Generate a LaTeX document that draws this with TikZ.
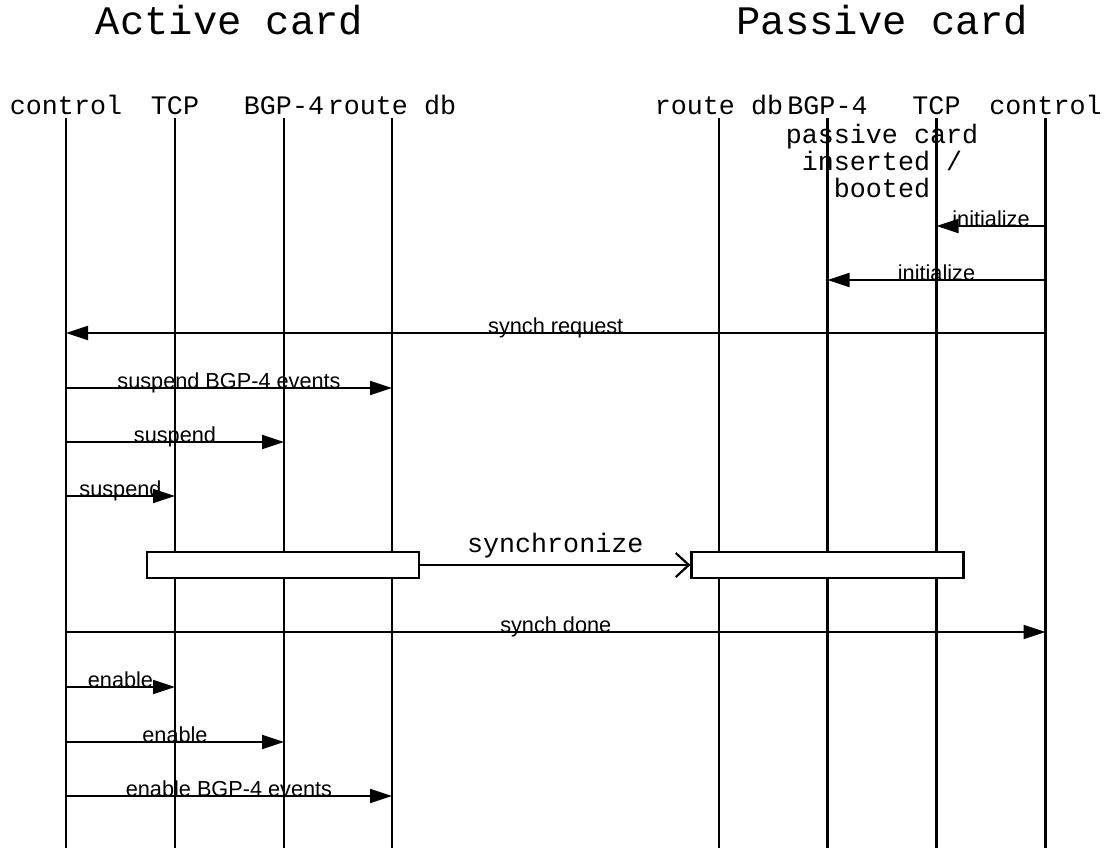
\documentclass[tikz,border=0pt]{standalone}
\usepackage{fontspec}
\setmainfont{Liberation Sans}
\setmonofont{Liberation Mono}
\usetikzlibrary{arrows.meta}

\begin{document}
\begin{tikzpicture}[x=1pt,y=-1pt,
    every node/.style={inner sep=0pt},
    cardtitle/.style={font=\ttfamily\fontsize{40.5}{42}\selectfont,anchor=base},
    entity/.style={font=\ttfamily\fontsize{26.7}{27}\selectfont,anchor=base},
    lifeline/.style={line width=2.2pt},
    msg/.style={line width=2.2pt,-{Triangle[length=22pt,width=14pt]}},
    msglabel/.style={font=\fontsize{21.7}{22}\selectfont,midway,anchor=base},
    syncbox/.style={draw,fill=white,line width=2.2pt,
                    minimum width=272pt,minimum height=26.5pt},
    syncarr/.style={line width=2.2pt,-{Straight Barb[length=13pt,width=24pt]}},
  ]
  \useasboundingbox (0,0) rectangle (1106,848);

  % card headings
  \node[cardtitle] (active) at (229.5,35) {Active card};
  \node[cardtitle] (passive) at (882.5,35) {Passive card};

  % entities
  \node[entity] (ctlA) at (66,115) {control};
  \node[entity] (tcpA) at (175,115) {TCP};
  \node[entity] (bgpA) at (284,115) {BGP-4};
  \node[entity] (rdbA) at (392,115) {route db};
  \node[entity] (rdbP) at (719,115) {route db};
  \node[entity] (bgpP) at (827.5,115) {BGP-4};
  \node[entity] (tcpP) at (936.5,115) {TCP};
  \node[entity] (ctlP) at (1045.5,115) {control};

  \coordinate (top) at (0,118);
  \coordinate (bot) at (0,848);
  \foreach \e in {ctlA,tcpA,bgpA,rdbA,rdbP,bgpP,tcpP,ctlP}
    \draw[lifeline] (\e |- top) -- (\e |- bot);

  \node[entity,align=center] (boot) at (882,197)
    {passive card\\inserted /\\booted};

  % message rows
  \coordinate (r1) at (0,226);
  \coordinate (r2) at (0,280);
  \coordinate (r3) at (0,333);
  \coordinate (r4) at (0,388);
  \coordinate (r5) at (0,442);
  \coordinate (r6) at (0,496);
  \coordinate (r8) at (0,632);
  \coordinate (r9) at (0,687);
  \coordinate (r10) at (0,742);
  \coordinate (r11) at (0,796);

  \draw[msg] (ctlP |- r1) -- (tcpP |- r1) node[msglabel] {initialize};
  \draw[msg] (ctlP |- r2) -- (bgpP |- r2) node[msglabel] {initialize};
  \draw[msg] (ctlP |- r3) -- (ctlA |- r3) node[msglabel] {synch request};
  \draw[msg] (ctlA |- r4) -- (rdbA |- r4) node[msglabel] {suspend BGP-4 events};
  \draw[msg] (ctlA |- r5) -- (bgpA |- r5) node[msglabel] {suspend};
  \draw[msg] (ctlA |- r6) -- (tcpA |- r6) node[msglabel] {suspend};

  % synchronisation
  \node[syncbox] (syncA) at (283,565) {};
  \node[syncbox] (syncP) at (827.5,565) {};
  \draw[syncarr] (syncA) -- (syncP)
    node[midway,anchor=base,yshift=13pt,font=\ttfamily\fontsize{26.7}{27}\selectfont]
    {synchronize};

  \draw[msg] (ctlA |- r8) -- (ctlP |- r8) node[msglabel] {synch done};
  \draw[msg] (ctlA |- r9) -- (tcpA |- r9) node[msglabel] {enable};
  \draw[msg] (ctlA |- r10) -- (bgpA |- r10) node[msglabel] {enable};
  \draw[msg] (ctlA |- r11) -- (rdbA |- r11) node[msglabel] {enable BGP-4 events};
\end{tikzpicture}
\end{document}
